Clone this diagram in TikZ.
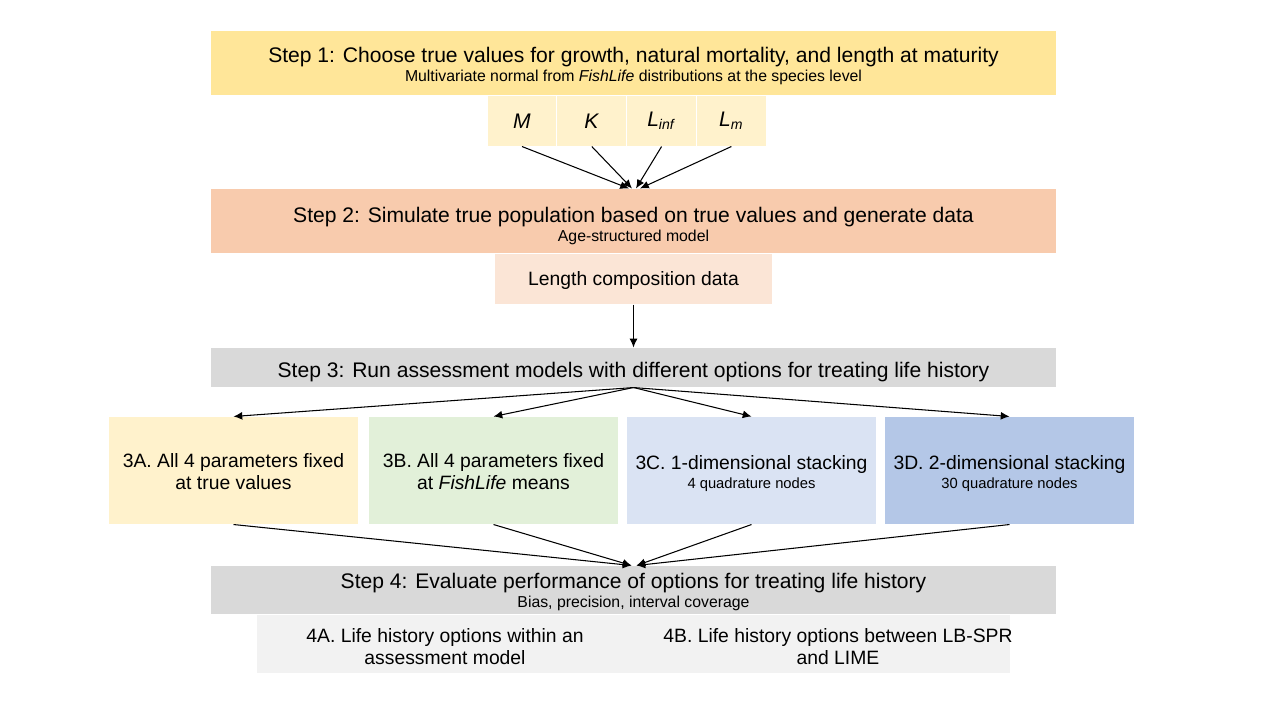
\documentclass[tikz,border=0pt]{standalone}
\usepackage{fontspec}
\setmainfont{Liberation Sans}
\usepackage{xcolor}
\usetikzlibrary{arrows.meta, positioning}

\definecolor{stepA}{HTML}{FFE699}
\definecolor{paramA}{HTML}{FFF2CC}
\definecolor{stepB}{HTML}{F8CBAD}
\definecolor{dataB}{HTML}{FBE5D6}
\definecolor{stepgrey}{HTML}{D9D9D9}
\definecolor{optA}{HTML}{FFF2CC}
\definecolor{optB}{HTML}{E2F0D9}
\definecolor{optC}{HTML}{DAE3F3}
\definecolor{optD}{HTML}{B4C7E7}
\definecolor{evalbox}{HTML}{F2F2F2}

\newcommand{\titlesize}{\fontsize{12}{14}\selectfont}
\newcommand{\subsize}{\fontsize{9}{11}\selectfont}
\newcommand{\optsize}{\fontsize{11}{12.5}\selectfont}
\newcommand{\quadsize}{\fontsize{8.4}{10}\selectfont}

\begin{document}
\begin{tikzpicture}[x=0.02cm, y=-0.02cm,
    box/.style={rectangle, inner sep=0pt, align=center},
    lift/.style={execute at begin node={\rule{0pt}{#1}}},
    stepbox/.style={box, minimum width=16.9cm},
    titletext/.style={anchor=base, inner sep=0pt, font=\titlesize},
    subtext/.style={anchor=base, inner sep=0pt, font=\subsize},
    parbox/.style={box, fill=paramA, minimum width=1.375cm, minimum height=1cm, font=\titlesize},
    optbox/.style={box, minimum width=4.98cm, minimum height=2.14cm, font=\optsize, lift=22.2pt},
    >={Latex[length=5pt,width=4.5pt]}, line width=0.6pt]

\useasboundingbox (0,0) rectangle (1280,720);

\node[stepbox, fill=stepA, minimum height=1.28cm] (S1) at (633.5,63) {};
\node[titletext] (S1title) at ([yshift=0.014cm]S1.center)
    {Step 1: Choose true values for growth, natural mortality, and length at maturity};
\node[subtext] (S1sub) at ([yshift=-0.374cm]S1.center)
    {Multivariate normal from \textit{FishLife} distributions at the species level};
\node[parbox] (M) at (522,121) {\textit{M}};
\node[parbox, right=0pt of M] (K) {\textit{K}};
\node[parbox, right=0pt of K] (Linf) {\textit{L}\textsubscript{\textit{inf}}};
\node[parbox, right=0pt of Linf] (Lm) {\textit{L}\textsubscript{\textit{m}}};
%
\node[stepbox, fill=stepB, minimum height=1.28cm] (S2) at (633.5,221) {};
\node[titletext] (S2title) at ([yshift=-0.02cm]S2.center)
    {Step 2: Simulate true population based on true values and generate data};
\node[subtext] (S2sub) at ([yshift=-0.41cm]S2.center) {Age-structured model};
\node[box, fill=dataB, minimum width=5.54cm, minimum height=1cm, font=\optsize, lift=10pt, below=0pt of S2] (LC)
    {Length composition data};
%
\node[stepbox, fill=stepgrey, minimum height=0.78cm, font=\titlesize, lift=13.3pt] (S3) at (633.5,367.5)
    {Step 3: Run assessment models with different options for treating life history};
\node[optbox, fill=optA] (O3A) at (233.5,470.5) {3A. All 4 parameters fixed\\at true values};
\node[optbox, fill=optB, right=0.2cm of O3A] (O3B) {3B. All 4 parameters fixed\\at \textit{FishLife} means};
\node[optbox, fill=optC, right=0.16cm of O3B, font=\fontsize{11}{11}\selectfont, lift=0pt] (O3C)
    {3C. 1-dimensional stacking\\{\quadsize 4 quadrature nodes}};
\node[optbox, fill=optD, right=0.16cm of O3C, font=\fontsize{11}{11}\selectfont, lift=0pt] (O3D)
    {3D. 2-dimensional stacking\\{\quadsize 30 quadrature nodes}};
%
\node[stepbox, fill=stepgrey, minimum height=0.96cm] (S4) at (633.5,590) {};
\node[titletext] (S4title) at ([yshift=0.03cm]S4.center)
    {Step 4: Evaluate performance of options for treating life history};
\node[subtext] (S4sub) at ([yshift=-0.35cm]S4.center) {Bias, precision, interval coverage};
\node[box, fill=evalbox, minimum width=15.06cm, minimum height=1.16cm, below=0pt of S4] (E4) {};
\node[box, font=\optsize, lift=22.8pt] (E4A) at (445,645) {4A. Life history options within an\\assessment model};
\node[box, font=\optsize, lift=22.8pt] (E4B) at (838,645) {4B. Life history options between LB-SPR\\and LIME};
%
\path[->]
    (M.south) edge ([xshift=-0.09cm]S2.north)
    (K.south) edge ([xshift=-0.03cm]S2.north)
    (Linf.south) edge ([xshift=0.05cm]S2.north)
    (Lm.south) edge ([xshift=0.13cm]S2.north)
    (LC) edge (S3)
    (S3.south) edge (O3A.north)
               edge (O3B.north)
               edge (O3C.north)
               edge (O3D.north)
    (O3A.south) edge ([xshift=-0.04cm]S4.north)
    (O3B.south) edge ([xshift=-0.04cm]S4.north)
    (O3C.south) edge ([xshift=0.06cm]S4.north)
    (O3D.south) edge ([xshift=0.06cm]S4.north);

\end{tikzpicture}
\end{document}
